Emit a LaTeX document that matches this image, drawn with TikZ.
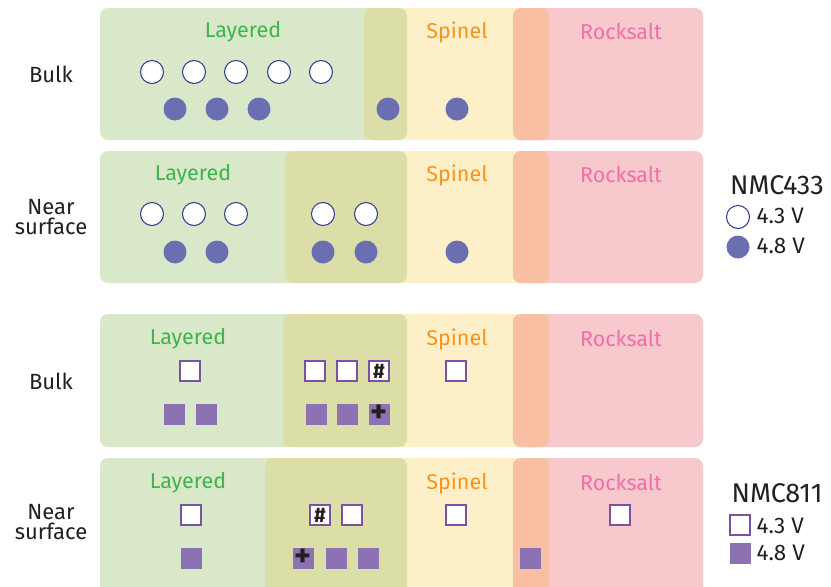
\documentclass[tikz,border=0pt]{standalone}
\usepackage{fontspec}
\setmainfont{Fira Sans}
\usetikzlibrary{positioning}

\definecolor{layeredbg}{HTML}{D9E8C9}
\definecolor{spinelbg}{HTML}{FDEFC8}
\definecolor{rocksaltbg}{HTML}{F8C9CC}
\definecolor{mixlsbg}{HTML}{DBDEA6}
\definecolor{mixsrbg}{HTML}{F9BFA3}
\definecolor{layeredtx}{HTML}{3DB54A}
\definecolor{spineltx}{HTML}{F7941D}
\definecolor{rocksalttx}{HTML}{F06EA9}
\definecolor{inktx}{HTML}{231F20}
\definecolor{circline}{HTML}{2B3990}
\definecolor{circfill}{HTML}{6A6FB2}
\definecolor{sqline}{HTML}{7B52A1}
\definecolor{sqfill}{HTML}{8C72B3}

\tikzset{
  phase/.style={rounded corners=8pt},
  phasename/.style={font=\fontsize{21.5}{21.5}\selectfont, anchor=center},
  rowname/.style={font=\fontsize{22}{20}\selectfont, text=inktx, align=center},
  legendtitle/.style={font=\fontsize{27}{27}\selectfont, text=inktx},
  legendtext/.style={font=\fontsize{22.5}{22.5}\selectfont, text=inktx, anchor=west},
  ocirc/.style={circle, minimum size=23pt, inner sep=0pt, draw=circline, fill=white, line width=1pt},
  fcirc/.style={circle, minimum size=23pt, inner sep=0pt, fill=circfill},
  osq/.style={rectangle, minimum size=20pt, inner sep=0pt, draw=sqline, fill=white, line width=1.2pt,
              font=\bfseries\fontsize{21}{21}\selectfont, text=inktx},
  fsq/.style={rectangle, minimum size=21pt, inner sep=0pt, fill=sqfill,
              font=\bfseries\fontsize{32}{32}\selectfont, text=inktx},
}

% one row of phase boxes: top, bottom, left edge of the spinel box
\newcommand{\phaserow}[3]{%
  \fill[phase, layeredbg] (100,#1) rectangle (407,#2);
  \fill[phase, spinelbg] (#3,#1) rectangle (549,#2);
  \fill[phase, rocksaltbg] (513,#1) rectangle (703,#2);
  \fill[phase, mixlsbg] (#3,#1) rectangle (407,#2);
  \fill[phase, mixsrbg] (513,#1) rectangle (549,#2);
}

\begin{document}
\begin{tikzpicture}[x=1pt, y=-1pt]
\useasboundingbox (0,0) rectangle (831,587);
\clip (0,0) rectangle (831,587);

% phase regions
\phaserow{8}{140}{364}
\phaserow{151}{283}{285}
\phaserow{314}{447}{283}
\phaserow{458}{610}{265}

% phase names
\foreach \y/\lx [count=\i] in {32/243, 175/193, 339/188, 483/188} {
  \node[phasename, text=layeredtx] (lay\i) at (\lx,\y) {Layered};
  \node[phasename, text=spineltx] (spi\i) at (457,\y) {Spinel};
  \node[phasename, text=rocksalttx] (roc\i) at (621,\y) {Rocksalt};
}

% row names
\node[rowname] (bulkA) at (51,74) {Bulk};
\node[rowname] (nearB) at (51,217) {Near\\surface};
\node[rowname] (bulkC) at (51,381) {Bulk};
\node[rowname] (nearD) at (51,522) {Near\\surface};

% NMC433, bulk
\foreach \x [count=\i] in {152,194,236,279,321} \node[ocirc] (a4o\i) at (\x,72) {};
\foreach \x [count=\i] in {175,217,259,388,457} \node[fcirc] (a4f\i) at (\x,109) {};

% NMC433, near surface
\foreach \x [count=\i] in {152,194,236,323,366} \node[ocirc] (b4o\i) at (\x,214) {};
\foreach \x [count=\i] in {175,217,323,366,457} \node[fcirc] (b4f\i) at (\x,252) {};

% NMC811, bulk
\foreach \x [count=\i] in {190,315,347,456} \node[osq] (c8o\i) at (\x,371) {};
\node[osq] (c8hash) at (379,371) {\#};
\foreach \x [count=\i] in {174,206,316,347} \node[fsq] (c8f\i) at (\x,414) {};
\node[fsq] (c8plus) at (379,414) {+};

% NMC811, near surface
\foreach \x [count=\i] in {191,352,456,620} \node[osq] (d8o\i) at (\x,515) {};
\node[osq] (d8hash) at (320,515) {\#};
\foreach \x [count=\i] in {191,336,368,530} \node[fsq] (d8f\i) at (\x,558) {};
\node[fsq] (d8plus) at (303,558) {+};

% legends
\node[legendtitle] (t433) at (777,185) {NMC433};
\node[ocirc] (k433o) at (738,217) {};
\node[fcirc] (k433f) at (738,247) {};
\node[legendtext] (l433o) at (753,216) {4.3 V};
\node[legendtext] (l433f) at (753,246) {4.8 V};

\node[legendtitle] (t811) at (777,493) {NMC811};
\node[osq] (k811o) at (740,525) {};
\node[fsq] (k811f) at (740,553) {};
\node[legendtext] (l811o) at (753,526) {4.3 V};
\node[legendtext] (l811f) at (753,553) {4.8 V};
\end{tikzpicture}
\end{document}
